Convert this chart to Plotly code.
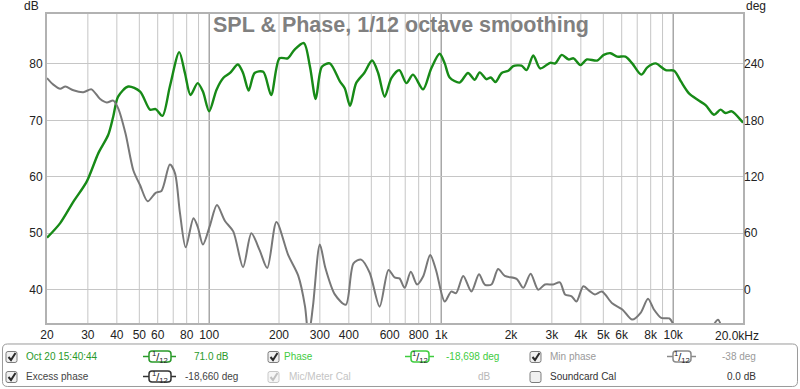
import plotly.graph_objects as go

# ---------------- data ----------------
spl_freq = [20, 22.8, 26, 29.7, 33.3, 36.7, 38.6, 40.5, 44.8, 50.4, 55.6, 58.8, 62.9, 67.7, 74.3, 78.6,
            83.1, 89.2, 94, 100, 107.5, 115, 123, 133, 140, 148, 157, 171, 185, 201, 218, 233, 256, 272,
            288, 306, 331, 366, 384, 405, 430, 466, 504, 535, 571, 610, 660, 708, 756, 836, 906, 985,
            1036, 1088, 1200, 1305, 1395, 1466, 1567, 1637, 1714, 1823, 1948, 2045, 2220, 2335, 2496,
            2670, 2950, 3100, 3310, 3540, 3720, 3980, 4250, 4700, 5020, 5370, 5740, 6230, 6660, 7290,
            7740, 8400, 9290, 10100, 10800, 11700, 12800, 13800, 15000, 16000, 16800, 17900, 19800, 20000]
spl_db = [49.2, 51.8, 55.6, 59.2, 64.2, 67.4, 70.7, 74.2, 76.0, 75.1, 71.9, 72.0, 70.8, 76.0, 82.1, 78.4,
          74.5, 76.6, 75.1, 71.6, 75.4, 77.5, 78.4, 79.9, 78.4, 75.3, 78.4, 78.6, 74.5, 81.0, 81.0, 82.5,
          83.7, 79.5, 73.8, 79.5, 80.1, 76.9, 75.7, 72.6, 76.6, 78.4, 80.6, 78.4, 74.2, 77.5, 78.9, 76.6,
          78.1, 75.5, 79.2, 81.8, 80.1, 77.6, 76.7, 78.4, 77.2, 78.5, 77.3, 77.6, 76.8, 78.4, 78.8, 79.6,
          79.7, 78.9, 81.5, 79.2, 80.2, 80.1, 81.6, 80.8, 81.0, 79.8, 80.8, 80.6, 81.6, 81.9, 81.3, 81.3,
          80.1, 78.1, 79.4, 80.1, 78.9, 78.8, 76.9, 74.8, 73.6, 72.7, 71.0, 71.9, 71.3, 71.6, 69.8, 69.6]

ph_freq = [20, 21.3, 22.8, 24, 26, 28.7, 31.1, 33.8, 36.2, 38.6, 40.5, 43.6, 47.1, 50.4, 54.3, 58.8,
           62.3, 67.7, 71.2, 74.8, 79.2, 85.6, 89.2, 94, 101, 108, 117, 127, 140, 152, 165, 178, 195,
           219, 242, 259, 268, 280, 300, 317, 348, 388, 419, 452, 492, 543, 593, 630, 661, 696, 740,
           787, 836, 897, 950, 1036, 1105, 1160, 1245, 1350, 1456, 1540, 1647, 1760, 1880, 2114, 2260,
           2430, 2620, 2800, 3040, 3250, 3420, 3650, 3830, 4100, 4380, 4600, 4930, 5460, 6040, 6660,
           7240, 7790, 8260, 8880, 9630, 10100, 11000, 12500, 14000, 15600, 16500, 18000, 20000]
ph_deg = [225, 218, 213.6, 216, 212, 210, 213, 203, 199, 201, 193, 166, 127, 111, 94, 103,
          105, 133, 124, 82, 45, 76, 67, 48, 69, 90, 73, 62, 24, 60, 42, 23, 72,
          37, 15, -18, -50, -18, 48, 23, -5, -16, 28, 32, 18, -18, 21, 13, 12, 2, 19,
          5.5, 14, 37, 21, -12.6, -2, -3.6, 14.6, -2, 16.4, 5.5, 5.5, 22, 14.6, 11.6, 2,
          17, 0, 5.5, 5.5, 7.8, -5, -7, -12.6, 3.6, -1.8, -5, -2, -14.5, -21, -31.8,
          -24.6, -9.6, -21, -30, -30.6, -38, -50, -55, -48, -32, -45, -60, -70]

x_tickvals = [20, 30, 40, 50, 60, 80, 100, 200, 300, 400, 600, 800, 1000, 2000, 3000, 4000, 5000,
              6000, 8000, 10000]
x_ticktext = ['20', '30', '40', '50', '60', '80', '100', '200', '300', '400', '600', '800', '1k',
              '2k', '3k', '4k', '5k', '6k', '8k', '10k']
grid_minor = [30, 40, 50, 60, 70, 80, 90, 200, 300, 400, 500, 600, 700, 800, 900,
              2000, 3000, 4000, 5000, 6000, 7000, 8000, 9000]
grid_major = [100, 1000, 10000]
db_ticks = [40, 50, 60, 70, 80]
deg_ticks = [0, 60, 120, 180, 240]

DB_RANGE = [34.1, 88.85]
DEG_RANGE = [(DB_RANGE[0] - 40) * 6, (DB_RANGE[1] - 40) * 6]

FONT = "Liberation Sans, Arial, sans-serif"
L, R, T, B = 47, 743, 14, 323
W, H = 800, 389


def PX(x):
    return (x - L) / (R - L)


def PY(y):
    return (B - y) / (B - T)


fig = go.Figure()
fig.add_trace(go.Scatter(x=ph_freq, y=ph_deg, yaxis='y2', mode='lines',
                         line=dict(color='#787878', width=2, shape='spline', smoothing=0.8),
                         showlegend=False, hoverinfo='skip'))
fig.add_trace(go.Scatter(x=spl_freq, y=spl_db, mode='lines',
                         line=dict(color='#178a17', width=2.4, shape='spline', smoothing=0.8),
                         showlegend=False, hoverinfo='skip'))

shapes = []
for g in grid_minor:
    shapes.append(dict(type='line', xref='x', yref='paper', x0=g, x1=g, y0=0, y1=1,
                       line=dict(color='#c6c6c6', width=1), layer='below'))
for g in grid_major:
    shapes.append(dict(type='line', xref='x', yref='paper', x0=g, x1=g, y0=0, y1=1,
                       line=dict(color='#7c7c7c', width=1), layer='below'))


def rrect_path(x0, y0, x1, y1, r):
    def p(x, y):
        return f"{PX(x):.5f},{PY(y):.5f}"
    return (f"M {p(x0 + r, y0)} L {p(x1 - r, y0)} Q {p(x1, y0)} {p(x1, y0 + r)} "
            f"L {p(x1, y1 - r)} Q {p(x1, y1)} {p(x1 - r, y1)} L {p(x0 + r, y1)} "
            f"Q {p(x0, y1)} {p(x0, y1 - r)} L {p(x0, y0 + r)} Q {p(x0, y0)} {p(x0 + r, y0)} Z")


def add_rrect(x0, y0, x1, y1, r, line_color, fill, lw=1):
    shapes.append(dict(type='path', xref='paper', yref='paper', path=rrect_path(x0, y0, x1, y1, r),
                       line=dict(color=line_color, width=lw), fillcolor=fill, layer='above'))


annotations = []


def text(x, y, s, color, size=10, anchor='left', bold=False):
    if bold:
        s = f"<b>{s}</b>"
    annotations.append(dict(xref='paper', yref='paper', x=PX(x), y=PY(y), text=s, showarrow=False,
                            xanchor=anchor, yanchor='middle',
                            font=dict(family=FONT, size=size, color=color)))


# legend panel
add_rrect(2.5, 344, 797.5, 386.5, 5, '#9a9a9a', 'white', 1)


def checkbox(x0, yc, checked=True, disabled=False):
    y0 = yc - 5
    add_rrect(x0, y0, x0 + 11, y0 + 11, 2, '#c8c8c8' if disabled else '#7c7c7c',
              '#f6f6f6' if disabled else '#f0f0f0', 1)
    if checked:
        pth = (f"M {PX(x0 + 2.5):.5f},{PY(y0 + 5.5):.5f} L {PX(x0 + 5):.5f},{PY(y0 + 8.5):.5f} "
               f"L {PX(x0 + 9.5):.5f},{PY(y0 + 1.5):.5f}")
        shapes.append(dict(type='path', xref='paper', yref='paper', path=pth,
                           line=dict(color='#c0c0c0' if disabled else '#2a2a2a', width=2),
                           layer='above'))


def smooth_icon(x0, x1, yc, color):
    shapes.append(dict(type='line', xref='paper', yref='paper', x0=PX(x0), x1=PX(x1),
                       y0=PY(yc), y1=PY(yc), line=dict(color=color, width=1.5), layer='above'))
    bx0, bx1 = x0 + 6, x1 - 5
    add_rrect(bx0, yc - 5.5, bx1, yc + 5.5, 3, color, 'white', 1.5)
    annotations.append(dict(xref='paper', yref='paper', x=PX((bx0 + bx1) / 2), y=PY(yc),
                            text="<sup>1</sup>/<sub>12</sub>", showarrow=False,
                            xanchor='center', yanchor='middle',
                            font=dict(family=FONT, size=11, color='#222222')))


r1, r2 = 356.5, 376.5
GREEN = '#2a9a2a'
LGREEN = '#3fcc3f'
checkbox(6, r1)
text(24, r1, 'Oct 20 15:40:44', GREEN)
smooth_icon(143, 176, r1, GREEN)
text(231, r1, '71.0 dB', GREEN, anchor='right')
checkbox(268, r1)
text(282, r1, 'Phase', LGREEN)
smooth_icon(405, 434, r1, LGREEN)
text(444, r1, '-18,698 deg', LGREEN)
checkbox(530, r1)
text(548, r1, 'Min phase', '#9a9a9a')
smooth_icon(667, 696, r1, '#8a8a8a')
text(758, r1, '-38 deg', '#9a9a9a', anchor='right')

checkbox(6, r2)
text(24, r2, 'Excess phase', '#444444')
smooth_icon(143, 176, r2, '#333333')
text(183, r2, '-18,660 deg', '#444444')
checkbox(268, r2, disabled=True)
text(287, r2, 'Mic/Meter Cal', '#c4c4c4')
text(493, r2, 'dB', '#b8b8b8', anchor='right')
checkbox(530, r2, checked=False)
text(548, r2, 'Soundcard Cal', '#333333')
text(758, r2, '0.0 dB', '#333333', anchor='right')

# title & axis units
text(401, 25, 'SPL &amp; Phase, 1/12 octave smoothing', '#808080', size=21.5, anchor='center', bold=True)
text(41, 6, 'dB', '#222222', size=12, anchor='right')
text(744, 6, 'deg', '#222222', size=12, anchor='left')
text(736.5, 336, '20.0kHz', '#222222', size=12, anchor='center')

fig.update_layout(
    width=W, height=H,
    margin=dict(l=L, r=W - R, t=T, b=H - B, pad=0),
    paper_bgcolor='white', plot_bgcolor='white',
    showlegend=False,
    shapes=shapes, annotations=annotations,
    font=dict(family=FONT, size=12, color='#222222'),
    xaxis=dict(type='log', range=[1.30103, 4.30103], tickvals=x_tickvals, ticktext=x_ticktext,
               showgrid=False, zeroline=False, showline=True, mirror=True, linecolor='#b2b2b2',
               linewidth=2, ticks='', tickfont=dict(size=12, color='#222222')),
    yaxis=dict(range=DB_RANGE, tickvals=db_ticks, showgrid=True, gridcolor='#c6c6c6', gridwidth=1,
               zeroline=False, showline=True, mirror=True, linecolor='#b2b2b2', linewidth=2,
               ticks='', tickfont=dict(size=12, color='#222222')),
    yaxis2=dict(range=DEG_RANGE, tickvals=deg_ticks, overlaying='y', side='right', showgrid=False,
                zeroline=False, showline=False, ticks='', tickfont=dict(size=12, color='#222222')),
)

fig.write_html("out.html", config={'displayModeBar': False},
               post_script="document.body.style.margin='0px';document.body.style.overflow='hidden';")
